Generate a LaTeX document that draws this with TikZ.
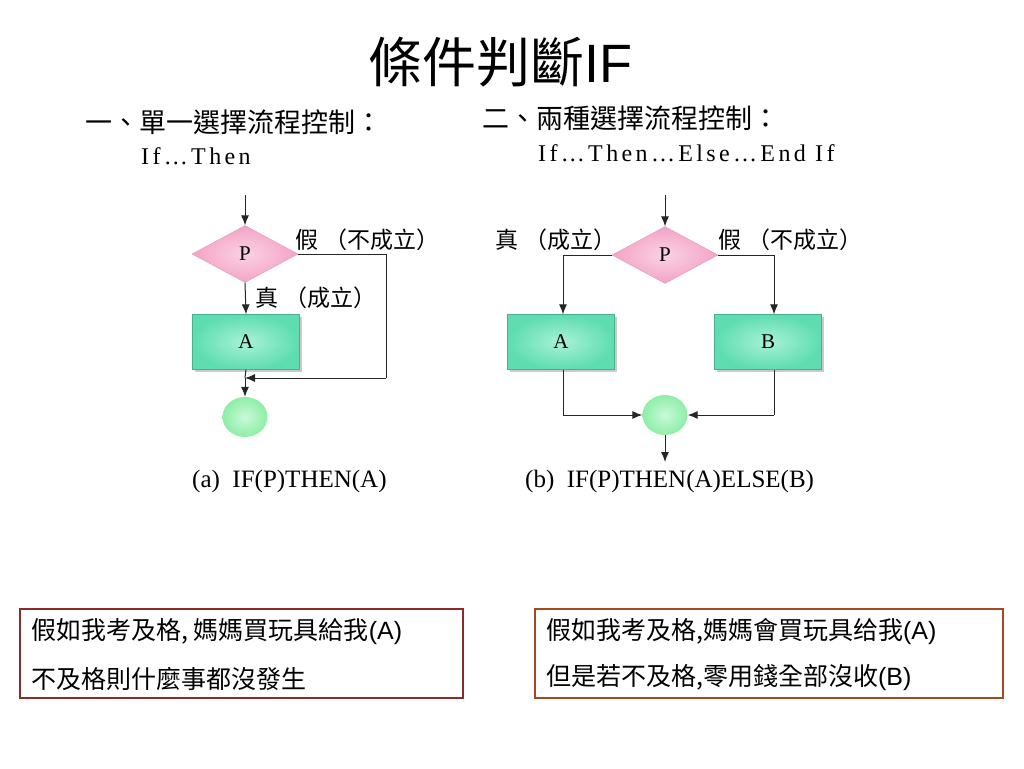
\documentclass[tikz,border=0pt]{standalone}
\usepackage{fontspec}
\setmainfont{Liberation Serif}
\newfontfamily\cjk{Noto Sans CJK TC}
\newfontfamily\arial{Liberation Sans}
\newfontfamily\codefont[LetterSpace=14]{Liberation Serif}
\usetikzlibrary{arrows.meta,shapes.geometric,shadows}
\definecolor{dpink}{HTML}{F3A3C6}
\definecolor{lpink}{HTML}{FAD2E4}
\definecolor{dgreen}{HTML}{5EDDB0}
\definecolor{lgreen}{HTML}{A8F2D6}
\definecolor{cgreen}{HTML}{8EEEA6}
\definecolor{lcgreen}{HTML}{C8FADA}
\definecolor{redbox}{HTML}{8E2A2A}
\definecolor{brownbox}{HTML}{A24A22}
\tikzset{
  decision/.style={diamond,aspect=1.9,minimum width=106pt,minimum height=57pt,inner sep=0pt,
    inner color=lpink,outer color=dpink,draw=dpink!90!black,line width=0.3pt,font=\fontsize{21}{21}\selectfont},
  procbox/.style={rectangle,minimum width=107pt,minimum height=55pt,inner sep=0pt,
    inner color=lgreen,outer color=dgreen,draw=dgreen!80!black,line width=0.3pt,
    drop shadow={shadow xshift=2pt,shadow yshift=-2pt,fill=black!35,opacity=0.6},font=\fontsize{21}{21}\selectfont},
  joint/.style={ellipse,minimum width=45pt,minimum height=40pt,inner sep=0pt,
    inner color=lcgreen,outer color=cgreen,draw=none},
  conn/.style={draw=black!85,line width=1pt},
  arr/.style={conn,-{Latex[length=10pt,width=8pt]}},
  flab/.style={font=\cjk\fontsize{23}{23}\selectfont,anchor=west,inner sep=0pt},
  captxt/.style={font=\fontsize{25}{25}\selectfont,anchor=west,inner sep=0pt},
  head/.style={font=\cjk\fontsize{27}{27}\selectfont,anchor=west,inner sep=0pt},
  code/.style={font=\codefont\fontsize{24}{24}\selectfont,anchor=west,inner sep=0pt},
  note/.style={font=\cjk\fontsize{25}{25}\selectfont,anchor=west,inner sep=0pt},
}
\begin{document}
\begin{tikzpicture}[x=1pt,y=-1pt]
\useasboundingbox (0,0) rectangle (1024,768);
% title
\node[font=\cjk\fontsize{54}{54}\selectfont,inner sep=0pt] (title) at (500,62) {條件判斷{\arial IF}};
% headers
\node[head] (h1) at (85,122) {一、單一選擇流程控制：};
\node[code] (c1) at (141,156) {If…Then};
\node[head] (h2) at (482,118) {二、兩種選擇流程控制：};
\node[code] (c2) at (538,153) {If…Then…Else…End If};

% ---- flowchart (a)
\coordinate (a0) at (245,195);
\node[decision] (pa) at (245,254) {P};
\node[procbox] (aa) at (246,342) {A};
\node[joint] (ja) at (245,417) {};
\coordinate (fa1) at (386,254);
\coordinate (fa2) at (386,378);
\coordinate (fa3) at (245,378);
\draw[arr] (a0) -- (pa.north);
\draw[arr] (pa.south) -- (aa.north);
\draw[conn] (aa.south) -- (fa3);
\draw[arr] (fa3) -- (ja.north);
\draw[conn] (pa.east) -- (fa1) -- (fa2);
\draw[arr] (fa2) -- (fa3);
\node[flab] (la1) at (295,240) {假\hspace{6pt}（不成立）};
\node[flab] (la2) at (255,298) {真\hspace{6pt}（成立）};
\node[captxt] (capa) at (192,481) {(a)\ \ IF(P)THEN(A)};

% ---- flowchart (b)
\coordinate (b0) at (665,195);
\node[decision] (pb) at (665,255) {P};
\node[procbox] (ba) at (561,342) {A};
\node[procbox] (bb) at (768,342) {B};
\node[joint] (jb) at (665,415) {};
\coordinate (b1) at (563,255);
\coordinate (b2) at (774,255);
\coordinate (b3) at (563,415);
\coordinate (b4) at (774,415);
\coordinate (b5) at (665,462);
\draw[arr] (b0) -- (pb.north);
\draw[conn] (pb.west) -- (b1);
\draw[arr] (b1) -- (b1 |- ba.north);
\draw[conn] (pb.east) -- (b2);
\draw[arr] (b2) -- (b2 |- bb.north);
\draw[conn] (b1 |- ba.south) -- (b3);
\draw[arr] (b3) -- (jb.west);
\draw[conn] (b2 |- bb.south) -- (b4);
\draw[arr] (b4) -- (jb.east);
\draw[arr] (jb.south) -- (b5);
\node[flab] (lb1) at (495,240) {真\hspace{6pt}（成立）};
\node[flab] (lb2) at (718,240) {假\hspace{6pt}（不成立）};
\node[captxt] (capb) at (525,481) {(b)\ \ IF(P)THEN(A)ELSE(B)};

% ---- note boxes
\draw[redbox,line width=1.6pt] (20,609) rectangle (463,698);
\node[note] (n1) at (31,632) {假如我考及格, 媽媽買玩具給我{\arial (A)}};
\node[note] (n2) at (31,679) {不及格則什麼事都沒發生};
\draw[brownbox,line width=2.2pt] (535,609) rectangle (1003,698);
\node[note] (n3) at (546,632) {假如我考及格,媽媽會買玩具给我{\arial (A)}};
\node[note] (n4) at (546,678) {但是若不及格,零用錢全部沒收{\arial (B)}};
\end{tikzpicture}
\end{document}
